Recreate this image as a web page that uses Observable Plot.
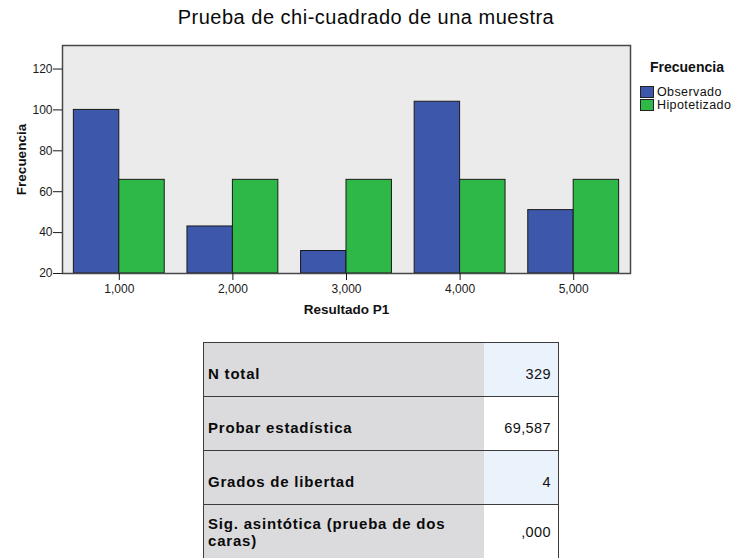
<!DOCTYPE html>
<html>
<head>
<meta charset="utf-8">
<script src="https://cdn.jsdelivr.net/npm/d3@7"></script>
<script src="https://cdn.jsdelivr.net/npm/@observablehq/plot@0.6"></script>
<style>
  html, body { margin: 0; padding: 0; background: #fff; }
  #root { position: relative; width: 743px; height: 558px; overflow: hidden; background: #fff;
          font-family: "Liberation Sans", Arial, sans-serif; color: #111; }
  #title { position: absolute; left: 66px; width: 600px; top: 7px; text-align: center;
           font-size: 20px; line-height: 20px; letter-spacing: 0.5px; color: #0a0a0a; }
  #chart { position: absolute; left: 0; top: 0; }
  #legend { position: absolute; left: 0; top: 0; width: 743px; height: 130px; }
  .lg-title { position: absolute; left: 650px; top: 59px; font-weight: bold; font-size: 14px; line-height: 16px; }
  .lg-item { position: absolute; left: 640px; font-size: 12.5px; line-height: 12px; white-space: nowrap; letter-spacing: 0.4px; }
  .lg-sw { display: inline-block; width: 12px; height: 10px; border: 1px solid #222; vertical-align: top; margin-right: 3px; margin-top: 0px; }
  #table { position: absolute; left: 203px; top: 342px; border-collapse: collapse; table-layout: fixed; }
  #table td { height: 54px; border-top: 1px solid #3c3c3c; border-bottom: 1px solid #3c3c3c; padding: 8px 0 0 0; vertical-align: middle; box-sizing: border-box; }
  #table td.lab { width: 280px; background: #dbdbdd; border-left: 1px solid #3c3c3c; font-weight: bold; font-size: 15px; letter-spacing: 0.8px; padding-left: 4px; line-height: 17px; color: #0a0a0a; }
  #table td.val { width: 75px; text-align: right; border-right: 1px solid #3c3c3c; font-size: 14.5px; letter-spacing: 0.4px; padding-right: 7px; }
  #table tr.last td { padding-top: 0; }
</style>
</head>
<body>
<div id="root">
  <div id="chart"></div>
  <div id="title">Prueba de chi-cuadrado de una muestra</div>
  <div id="legend"></div>
  <table id="table"></table>
</div>
<script>
// ---- data ----
const categories = [1, 2, 3, 4, 5];
const tickLabels = ["1,000", "2,000", "3,000", "4,000", "5,000"];
const series = ["Observado", "Hipotetizado"];
const observed = [100, 43, 31, 104, 51];
const hypothesized = [65.8, 65.8, 65.8, 65.8, 65.8];
const colors = ["#3d58ab", "#2db848"];
const yTicks = [20, 40, 60, 80, 100, 120];
const legendTitle = "Frecuencia";
const yLabel = "Frecuencia";
const xLabel = "Resultado P1";
const tableLabels = ["N total", "Probar estadística", "Grados de libertad", "Sig. asintótica (prueba de dos caras)"];
const tableValues = ["329", "69,587", "4", ",000"];
const tableValueBg = ["#eaf3fc", "#ffffff", "#eaf3fc", "#ffffff"];

// ---- build rows ----
const barWidth = 0.4;
const rows = [];
categories.forEach((c, i) => {
  rows.push({cat: c, series: series[0], value: observed[i], x1: c - barWidth, x2: c});
  rows.push({cat: c, series: series[1], value: hypothesized[i], x1: c, x2: c + barWidth});
});

const chart = Plot.plot({
  width: 743,
  height: 320,
  marginLeft: 62,
  marginRight: 113,
  marginTop: 45,
  marginBottom: 47,
  style: {fontFamily: "'Liberation Sans', Arial, sans-serif", fontSize: "12px", color: "#1a1a1a", background: "transparent", overflow: "visible"},
  x: {domain: [0.5, 5.5]},
  y: {domain: [20, 131.5], clamp: true},
  color: {domain: series, range: colors},
  marks: [
    Plot.frame({fill: "#ebebeb"}),
    Plot.rectY(rows, {x1: "x1", x2: "x2", y: "value", fill: "series", stroke: "#1a1a1a", strokeWidth: 1}),
    Plot.frame({stroke: "#484848", strokeWidth: 1.5}),
    Plot.axisY({ticks: yTicks, tickSize: 9, tickPadding: 1, fontSize: 12, label: null}),
    Plot.axisX({ticks: categories, tickFormat: d => tickLabels[categories.indexOf(d)], tickSize: 7, tickPadding: 4, fontSize: 12, label: null}),
    Plot.text([yLabel], {text: d => d, frameAnchor: "left", dx: -41, rotate: -90, textAnchor: "middle", lineAnchor: "middle", fontWeight: "bold", fontSize: 13.5, fill: "#111"}),
    Plot.text([xLabel], {text: d => d, frameAnchor: "bottom", dy: 36, textAnchor: "middle", lineAnchor: "middle", fontWeight: "bold", fontSize: 13.5, fill: "#111"})
  ]
});
document.getElementById("chart").appendChild(chart);

// ---- legend ----
const lg = document.getElementById("legend");
const lt = document.createElement("div");
lt.className = "lg-title";
lt.textContent = legendTitle;
lg.appendChild(lt);
series.forEach((s, i) => {
  const it = document.createElement("div");
  it.className = "lg-item";
  it.style.top = (86 + i * 13) + "px";
  const sw = document.createElement("span");
  sw.className = "lg-sw";
  sw.style.background = colors[i];
  it.appendChild(sw);
  it.appendChild(document.createTextNode(s));
  lg.appendChild(it);
});

// ---- table ----
const tbl = document.getElementById("table");
tableLabels.forEach((l, i) => {
  const tr = document.createElement("tr");
  if (i === tableLabels.length - 1) tr.className = "last";
  const a = document.createElement("td");
  a.className = "lab";
  a.textContent = l;
  const b = document.createElement("td");
  b.className = "val";
  b.style.background = tableValueBg[i];
  b.textContent = tableValues[i];
  tr.appendChild(a); tr.appendChild(b);
  tbl.appendChild(tr);
});
</script>
</body>
</html>
